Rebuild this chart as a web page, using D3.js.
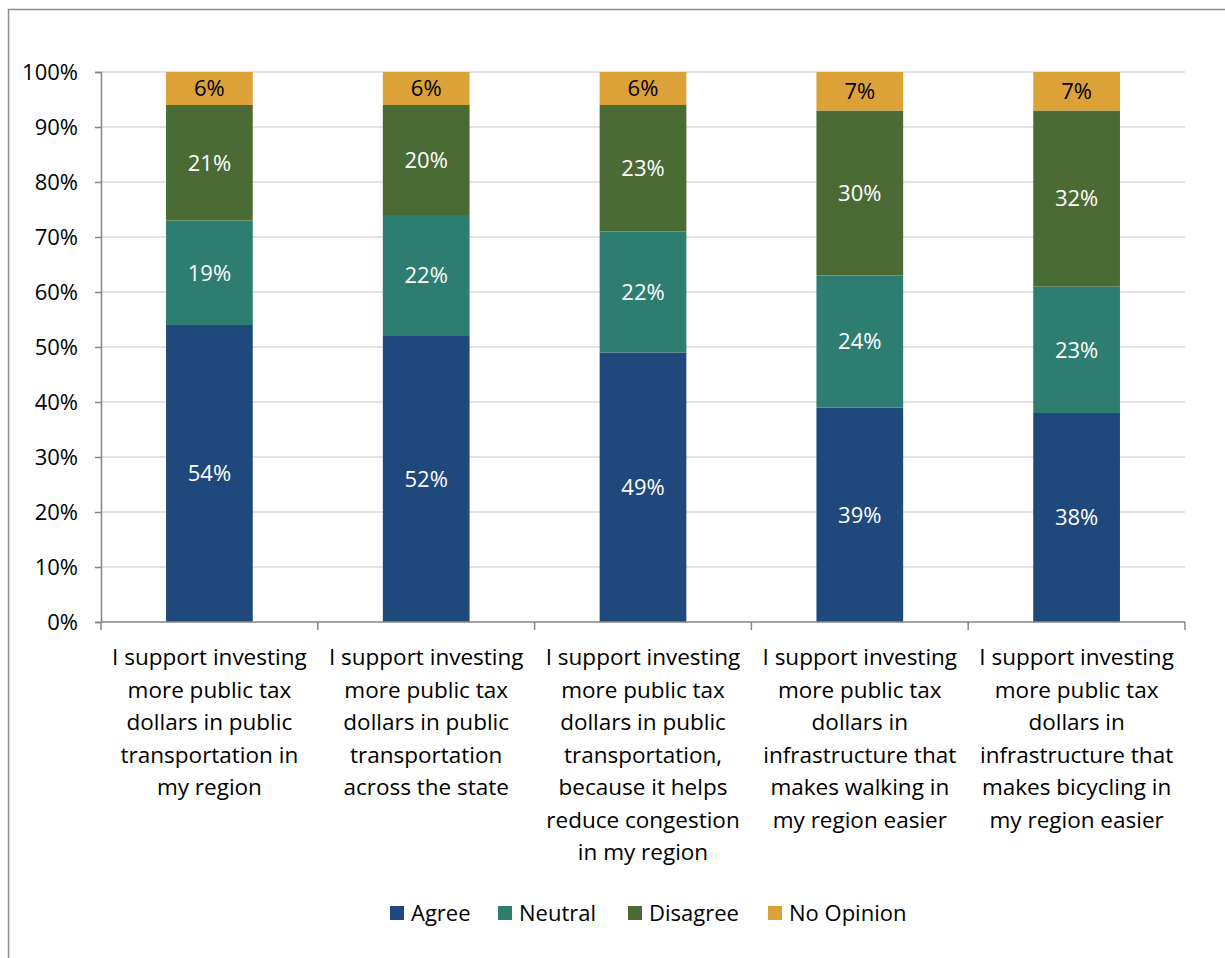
<!DOCTYPE html>
<html>
<head>
<meta charset="utf-8">
<script src="https://cdn.jsdelivr.net/npm/d3@7"></script>
<style>
  body { margin: 0; background: #fff; }
  text { font-family: "Open Sans", "Liberation Sans", Arial, sans-serif; }
</style>
</head>
<body>
<script>
var categories = [
  ["I support investing", "more public tax", "dollars in public", "transportation in", "my region"],
  ["I support investing", "more public tax", "dollars in public", "transportation", "across the state"],
  ["I support investing", "more public tax", "dollars in public", "transportation,", "because it helps", "reduce congestion", "in my region"],
  ["I support investing", "more public tax", "dollars in", "infrastructure that", "makes walking in", "my region easier"],
  ["I support investing", "more public tax", "dollars in", "infrastructure that", "makes bicycling in", "my region easier"]
];
var seriesNames = ["Agree", "Neutral", "Disagree", "No Opinion"];
var agree = [54, 52, 49, 39, 38];
var neutral = [19, 22, 22, 24, 23];
var disagree = [21, 20, 23, 30, 32];
var noOpinion = [6, 6, 6, 7, 7];
var yTicks = [0, 10, 20, 30, 40, 50, 60, 70, 80, 90, 100];

var colors = ["#1F497D", "#2D7E70", "#4A6B33", "#DCA238"];
var labelColors = ["#fff", "#fff", "#fff", "#000"];

var width = 1225, height = 958;
var margin = {top: 72, right: 40, bottom: 336, left: 101},
    w = 1185 - margin.left,
    h = 622 - margin.top;

var svg = d3.select("body").append("svg")
    .attr("width", width)
    .attr("height", height);

// outer chart border
svg.append("rect")
    .attr("x", 8.5).attr("y", 9.5)
    .attr("width", 1240).attr("height", 1000)
    .attr("fill", "none")
    .attr("stroke", "#8c8c8c")
    .attr("stroke-width", 1.5);

var g = svg.append("g")
    .attr("transform", "translate(" + margin.left + "," + margin.top + ")");

var idx = d3.range(categories.length);
var x = d3.scaleBand().domain(idx).range([0, w]).paddingInner(0.6).paddingOuter(0.3);
var xOuter = d3.scaleBand().domain(idx).range([0, w]);
var y = d3.scaleLinear().domain([0, 100]).range([h, 0]);

// gridlines
g.selectAll(".grid")
    .data(yTicks.slice(1))
  .enter().append("line")
    .attr("x1", 0).attr("x2", w)
    .attr("y1", function(d) { return y(d); })
    .attr("y2", function(d) { return y(d); })
    .attr("stroke", "#d9d9d9")
    .attr("stroke-width", 1.5);

// stacked data
var rows = idx.map(function(i) {
  return {i: i, Agree: agree[i], Neutral: neutral[i], Disagree: disagree[i], "No Opinion": noOpinion[i]};
});
var stack = d3.stack().keys(seriesNames)(rows);

var layers = g.selectAll(".layer")
    .data(stack)
  .enter().append("g")
    .attr("fill", function(d, k) { return colors[k]; });

layers.selectAll("rect")
    .data(function(d) { return d; })
  .enter().append("rect")
    .attr("x", function(d) { return x(d.data.i); })
    .attr("width", x.bandwidth())
    .attr("y", function(d) { return y(d[1]); })
    .attr("height", function(d) { return y(d[0]) - y(d[1]); });

layers.each(function(s, k) {
  d3.select(this).selectAll("text")
      .data(s)
    .enter().append("text")
      .attr("x", function(d) { return x(d.data.i) + x.bandwidth() / 2; })
      .attr("y", function(d) { return (y(d[0]) + y(d[1])) / 2; })
      .attr("dy", "0.36em")
      .attr("text-anchor", "middle")
      .attr("font-size", 22)
      .attr("fill", labelColors[k])
      .text(function(d) { return (d[1] - d[0]) + "%"; });
});

// y axis
var yAxis = g.append("g")
    .call(d3.axisLeft(y).tickValues(yTicks).tickSize(6).tickPadding(17)
      .tickFormat(function(d) { return d + "%"; }));
yAxis.selectAll("text").attr("font-size", 22).attr("fill", "#000")
    .style("font-family", "'Open Sans', 'Liberation Sans', Arial, sans-serif");
yAxis.selectAll("line, path").attr("stroke", "#868686").attr("stroke-width", 1.5);

// x axis
var xAxis = g.append("g").attr("transform", "translate(0," + h + ")");
xAxis.append("line")
    .attr("x1", 0).attr("x2", w)
    .attr("stroke", "#868686").attr("stroke-width", 1.5);
xAxis.selectAll(".tick")
    .data(idx.concat([idx.length]))
  .enter().append("line")
    .attr("x1", function(d) { return d < idx.length ? xOuter(d) : w; })
    .attr("x2", function(d) { return d < idx.length ? xOuter(d) : w; })
    .attr("y1", 0).attr("y2", 8)
    .attr("stroke", "#868686").attr("stroke-width", 1.5);

var catLabels = xAxis.selectAll(".cat")
    .data(idx)
  .enter().append("text")
    .attr("text-anchor", "middle")
    .attr("font-size", 22.5)
    .attr("fill", "#000")
    .attr("transform", function(i) { return "translate(" + (xOuter(i) + xOuter.bandwidth() / 2) + ",43)"; });

catLabels.selectAll("tspan")
    .data(function(i) { return categories[i]; })
  .enter().append("tspan")
    .attr("x", 0)
    .attr("y", function(d, j) { return j * 32.5; })
    .text(function(d) { return d; });

// legend
var legendX = [390, 498, 628, 768];
var legend = svg.append("g").attr("transform", "translate(0,913)");
var items = legend.selectAll("g")
    .data(seriesNames)
  .enter().append("g")
    .attr("transform", function(d, k) { return "translate(" + legendX[k] + ",0)"; });
items.append("rect")
    .attr("x", 0).attr("y", -7)
    .attr("width", 14).attr("height", 14)
    .attr("fill", function(d, k) { return colors[k]; });
items.append("text")
    .attr("x", 21).attr("dy", "0.36em")
    .attr("font-size", 22)
    .attr("fill", "#000")
    .text(function(d) { return d; });
</script>
</body>
</html>
